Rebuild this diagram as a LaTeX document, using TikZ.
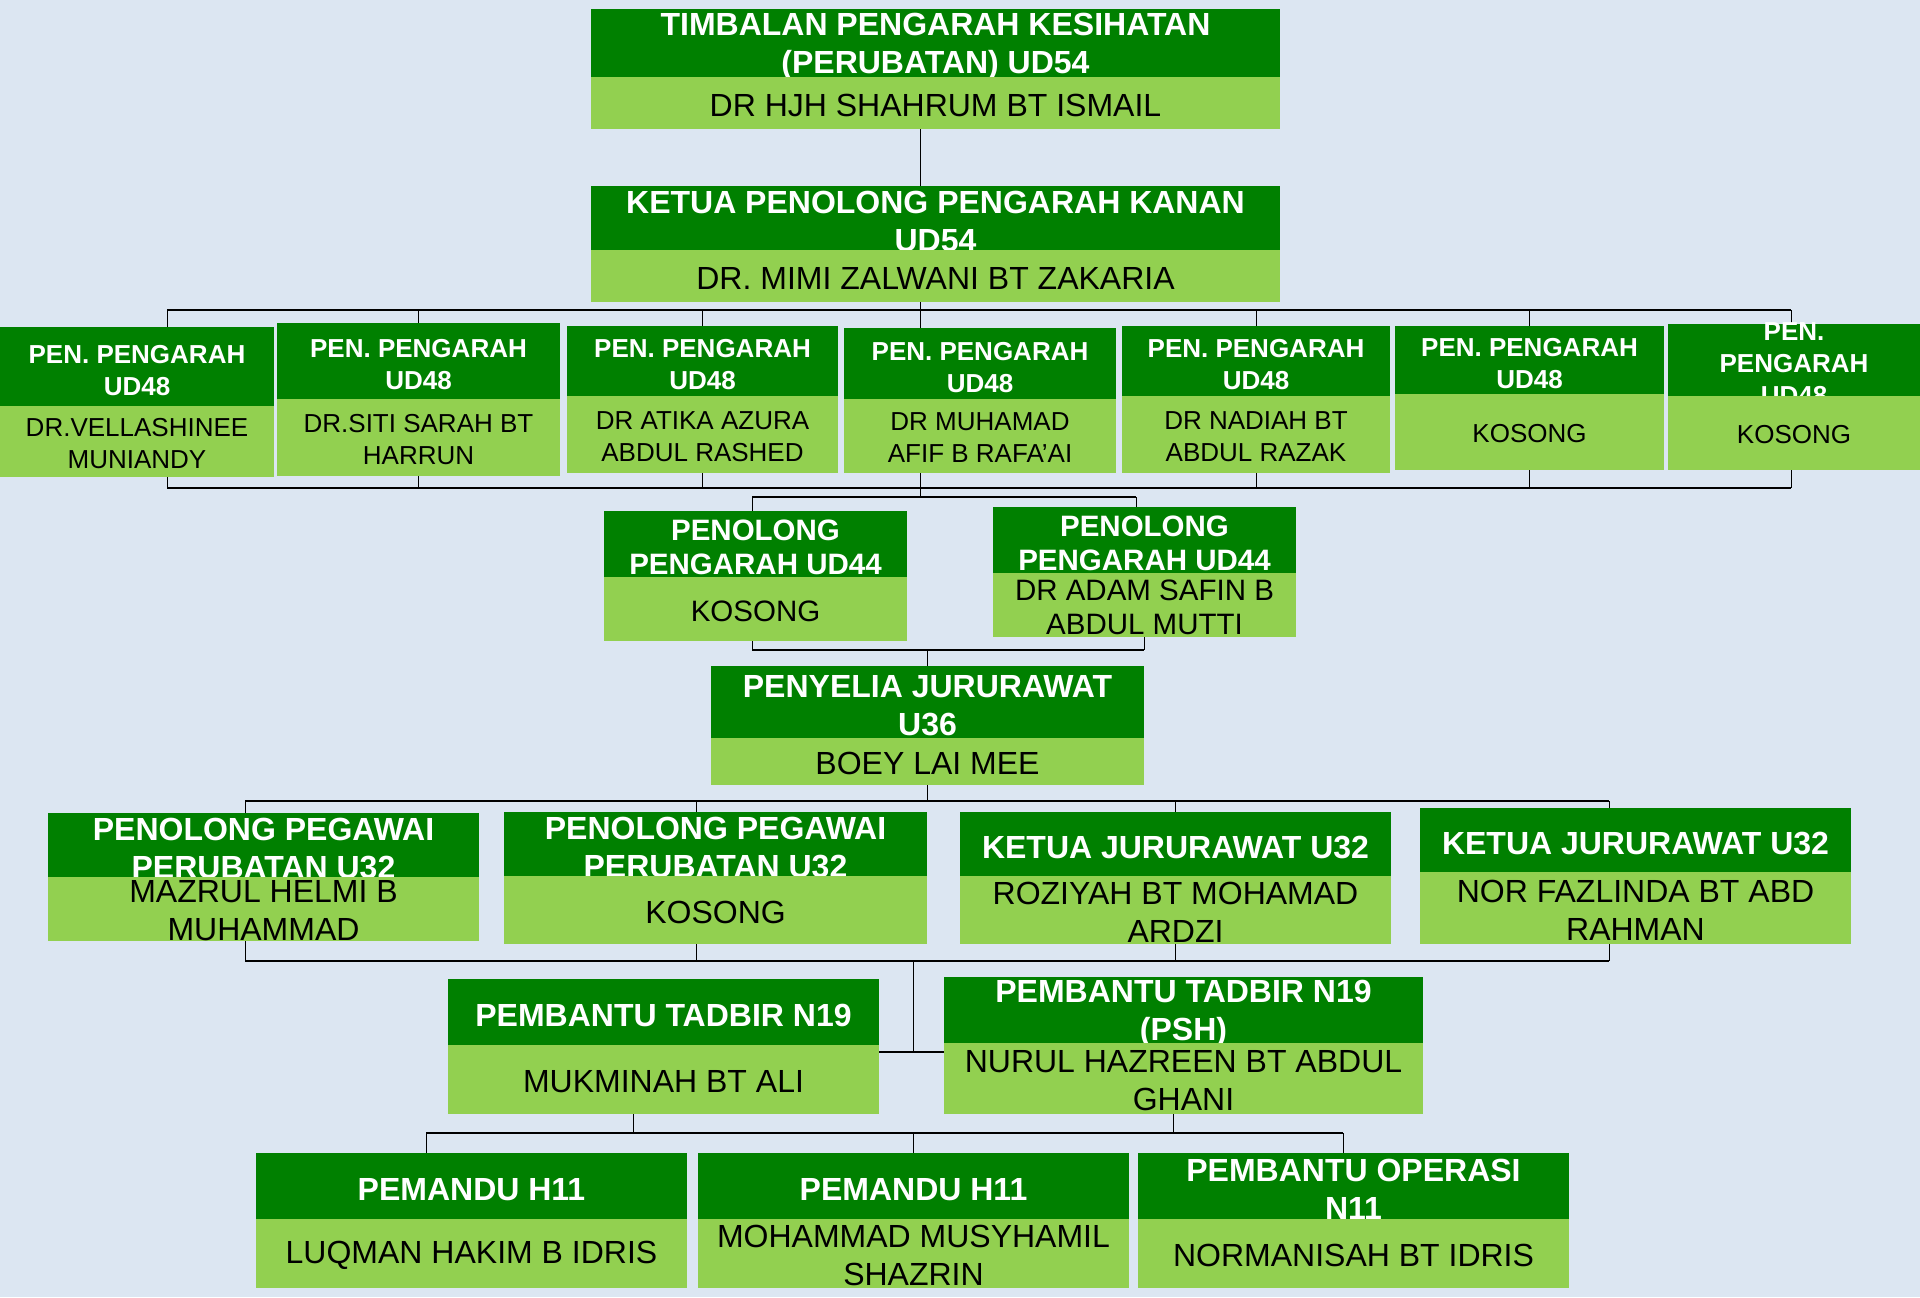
\documentclass[tikz,border=0pt]{standalone}
\usepackage{fontspec}
\setmainfont{Liberation Sans}
\usetikzlibrary{fit}

\definecolor{hijautua}{RGB}{0,128,0}
\definecolor{hijaumuda}{RGB}{146,208,80}
\definecolor{latar}{RGB}{220,230,242}

\pgfdeclarelayer{latarbelakang}
\pgfdeclarelayer{garisan}
\pgfsetlayers{latarbelakang,garisan,main}

\newcommand{\fbesar}{\fontsize{16}{19}\selectfont}
\newcommand{\fsedang}{\fontsize{14.75}{17}\selectfont}
\newcommand{\fkecil}{\fontsize{13}{16}\selectfont}

\tikzset{
  kotaktajuk/.style={inner sep=0pt, fill=hijautua},
  kotaknama/.style={inner sep=0pt, fill=hijaumuda},
  teks/.style={inner sep=0pt, align=center},
  tekstajuk/.style={teks, text=white, yshift=-1.8pt},
  teksnama/.style={teks, text=black, yshift=-1pt},
  garis/.style={draw=black, line width=0.5pt},
  bas/.style={draw=black, line width=0.9pt},
}

% nama, x1, y1, y tengah, x2, y2, jawatan, pegawai, saiz huruf
\newcommand{\jawatan}[9]{%
  \node[kotaktajuk, fit={(#2,#3) (#5,#4)}] (#1-t) {};
  \node[tekstajuk, font=#9\bfseries] at (#1-t.center) {#7};
  \node[kotaknama, fit={(#2,#4) (#5,#6)}] (#1-n) {};
  \node[teksnama, font=#9] at (#1-n.center) {#8};
  \node[inner sep=0pt, fit={(#2,#3) (#5,#6)}] (#1) {};
}

\begin{document}
\begin{tikzpicture}[x=0.5pt, y=-0.5pt]
  \useasboundingbox (0,0) rectangle (1920,1297);
  \begin{pgfonlayer}{latarbelakang}
    \fill[latar] (0,0) rectangle (1920,1297);
  \end{pgfonlayer}

  % peringkat atas
  \jawatan{t1}{591}{9}{77}{1280}{129}{TIMBALAN PENGARAH KESIHATAN\\(PERUBATAN) UD54}{DR HJH SHAHRUM BT ISMAIL}{\fbesar}
  \jawatan{k1}{591}{186}{250}{1280}{302}{KETUA PENOLONG PENGARAH KANAN\\UD54}{DR. MIMI ZALWANI BT ZAKARIA}{\fbesar}

  % pen. pengarah UD48
  \jawatan{p1}{0}{327}{406}{274}{477}{PEN. PENGARAH\\UD48}{DR.VELLASHINEE\\MUNIANDY}{\fkecil}
  \jawatan{p2}{277}{323}{399}{560}{476}{PEN. PENGARAH\\UD48}{DR.SITI SARAH BT\\HARRUN}{\fkecil}
  \jawatan{p3}{567}{326}{396}{838}{473}{PEN. PENGARAH\\UD48}{DR ATIKA AZURA\\ABDUL RASHED}{\fkecil}
  \jawatan{p4}{844}{328}{399}{1116}{473}{PEN. PENGARAH\\UD48}{DR MUHAMAD\\AFIF B RAFA’AI}{\fkecil}
  \jawatan{p5}{1122}{326}{396}{1390}{473}{PEN. PENGARAH\\UD48}{DR NADIAH BT\\ABDUL RAZAK}{\fkecil}
  \jawatan{p6}{1395}{326}{394}{1664}{470}{PEN. PENGARAH\\UD48}{KOSONG}{\fkecil}
  \jawatan{p7}{1668}{324}{396}{1920}{470}{PEN.\\PENGARAH\\UD48}{KOSONG}{\fkecil}

  % penolong pengarah UD44
  \jawatan{q1}{604}{511}{577}{907}{641}{PENOLONG\\PENGARAH UD44}{KOSONG}{\fsedang}
  \jawatan{q2}{993}{507}{573}{1296}{637}{PENOLONG\\PENGARAH UD44}{DR ADAM SAFIN B\\ABDUL MUTTI}{\fsedang}

  \jawatan{j1}{711}{666}{738}{1144}{785}{PENYELIA JURURAWAT\\U36}{BOEY LAI MEE}{\fbesar}

  % U32
  \jawatan{r1}{48}{813}{877}{479}{941}{PENOLONG PEGAWAI\\PERUBATAN U32}{MAZRUL HELMI B\\MUHAMMAD}{\fbesar}
  \jawatan{r2}{504}{812}{876}{927}{944}{PENOLONG PEGAWAI\\PERUBATAN U32}{KOSONG}{\fbesar}
  \jawatan{r3}{960}{812}{876}{1391}{944}{KETUA JURURAWAT U32}{ROZIYAH BT MOHAMAD\\ARDZI}{\fbesar}
  \jawatan{r4}{1420}{808}{872}{1851}{944}{KETUA JURURAWAT U32}{NOR FAZLINDA BT ABD\\RAHMAN}{\fbesar}

  % N19
  \jawatan{s1}{448}{979}{1045}{879}{1114}{PEMBANTU TADBIR N19}{MUKMINAH BT ALI}{\fbesar}
  \jawatan{s2}{944}{977}{1043}{1423}{1114}{PEMBANTU TADBIR N19\\(PSH)}{NURUL HAZREEN BT ABDUL\\GHANI}{\fbesar}

  % H11 / N11
  \jawatan{u1}{256}{1153}{1219}{687}{1288}{PEMANDU H11}{LUQMAN HAKIM B IDRIS}{\fbesar}
  \jawatan{u2}{698}{1153}{1219}{1129}{1288}{PEMANDU H11}{MOHAMMAD MUSYHAMIL\\SHAZRIN}{\fbesar}
  \jawatan{u3}{1138}{1153}{1219}{1569}{1288}{PEMBANTU OPERASI\\N11}{NORMANISAH BT IDRIS}{\fbesar}

  \begin{pgfonlayer}{garisan}
    \coordinate (x0) at (920,0);
    \draw[garis] (t1.south -| x0) -- (k1.north -| x0);
    \draw[garis] (k1.south -| x0) -- (p4.north -| x0);

    \coordinate (bA1) at (167,310);
    \coordinate (bA2) at (1791,310);
    \coordinate (bB1) at (167,488);
    \coordinate (bB2) at (1791,488);
    \draw[bas] (bA1) -- (bA2);
    \draw[bas] (bB1) -- (bB2);
    \draw[garis] (bA1) -- (bB1);
    \draw[garis] (bA2) -- (bB2);
    \foreach \k in {p2,p3,p5,p6}
      \draw[garis] (\k.center |- bA1) -- (\k.center |- bB1);

    \coordinate (bC1) at (752,497);
    \coordinate (bC2) at (1136,497);
    \draw[garis] (p4.south -| x0) -- (bC1 -| x0);
    \draw[bas] (bC1) -- (bC2);
    \draw[garis] (bC1) -- (q1.north -| bC1);
    \draw[garis] (bC2) -- (q2.north -| bC2);

    \coordinate (bD1) at (752,650);
    \coordinate (bD2) at (1144,650);
    \draw[garis] (q1.south -| bD1) -- (bD1);
    \draw[garis] (q2.south -| bD2) -- (bD2);
    \draw[bas] (bD1) -- (bD2);
    \draw[garis] (j1.north |- bD1) -- (j1.north);

    \coordinate (bE1) at (245,801);
    \coordinate (bE2) at (1609,801);
    \coordinate (bF1) at (245,961);
    \coordinate (bF2) at (1609,961);
    \coordinate (x2) at (696,0);
    \draw[garis] (j1.south) -- (j1.south |- bE1);
    \draw[bas] (bE1) -- (bE2);
    \draw[bas] (bF1) -- (bF2);
    \draw[garis] (bE1) -- (bF1);
    \draw[garis] (bE2) -- (bF2);
    \draw[garis] (bE1 -| x2) -- (bF1 -| x2);
    \draw[garis] (r3.center |- bE1) -- (r3.center |- bF1);

    \coordinate (bG) at (913,1052);
    \draw[garis] (bF1 -| bG) -- (bG);
    \draw[bas] (s1.east |- bG) -- (s2.west |- bG);

    \coordinate (bH1) at (426,1133);
    \coordinate (bH2) at (1343,1133);
    \coordinate (x3) at (633,0);
    \coordinate (x4) at (1173,0);
    \draw[garis] (s1.south -| x3) -- (bH1 -| x3);
    \draw[garis] (s2.south -| x4) -- (bH1 -| x4);
    \draw[bas] (bH1) -- (bH2);
    \draw[garis] (bH1) -- (u1.north -| bH1);
    \draw[garis] (bH2) -- (u3.north -| bH2);
    \draw[garis] (u2.center |- bH1) -- (u2.north);
  \end{pgfonlayer}
\end{tikzpicture}
\end{document}
